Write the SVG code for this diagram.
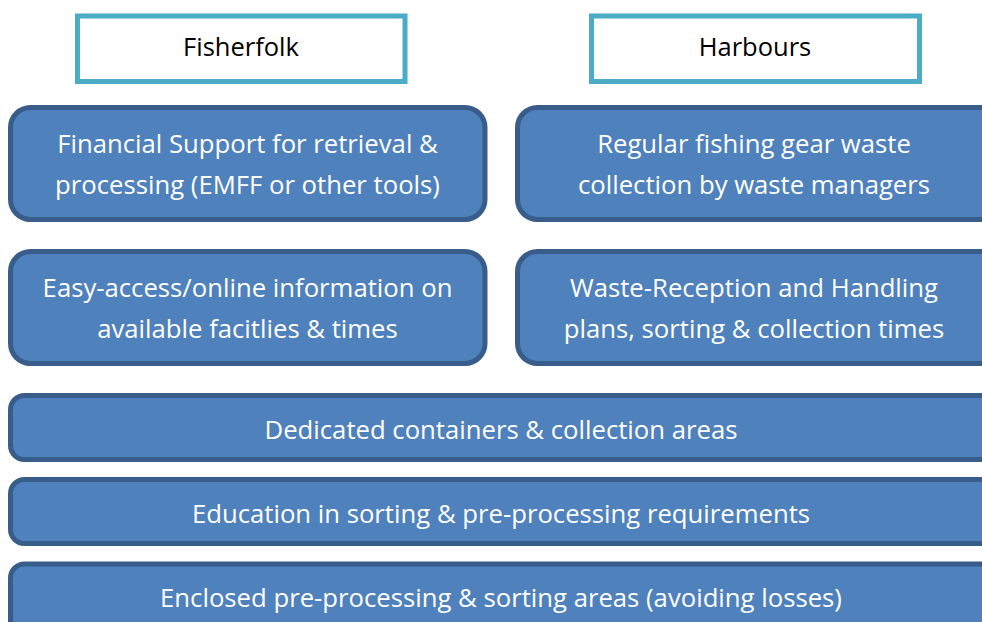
<svg xmlns="http://www.w3.org/2000/svg" width="982" height="622" viewBox="0 0 982 622">
  <style>
    .head rect { fill: #ffffff; stroke: #4bacc6; stroke-width: 5; }
    .head text { font-family: "Open Sans", "Liberation Sans", Arial, sans-serif; font-size: 25.5px; fill: #000000; text-anchor: middle; }
    .blk rect { fill: #4f81bd; stroke: #385d8a; stroke-width: 5; }
    .blk text { font-family: "Open Sans", "Liberation Sans", Arial, sans-serif; font-size: 25.7px; fill: #ffffff; text-anchor: middle; }
  </style>
  <rect x="0" y="0" width="982" height="622" fill="#ffffff"/>

  <g id="fisherfolk" class="head">
    <rect x="77.5" y="16" width="327.5" height="65.5"/>
    <text x="241" y="56">Fisherfolk</text>
  </g>
  <g id="harbours" class="head">
    <rect x="591.5" y="16" width="328" height="65.5"/>
    <text x="755" y="56">Harbours</text>
  </g>

  <g id="financial-support" class="blk">
    <rect x="10.5" y="107.5" width="474.5" height="112" rx="20"/>
    <text x="247.5" y="153">Financial Support for retrieval &amp;</text>
    <text x="247.5" y="194">processing (EMFF or other tools)</text>
  </g>
  <g id="regular-collection" class="blk">
    <rect x="517.5" y="107.5" width="490" height="112" rx="20"/>
    <text x="754" y="153">Regular fishing gear waste</text>
    <text x="754" y="194">collection by waste managers</text>
  </g>

  <g id="online-information" class="blk">
    <rect x="10.5" y="251.5" width="474.5" height="112" rx="20"/>
    <text x="247.5" y="297">Easy-access/online information on</text>
    <text x="247.5" y="338">available facitlies &amp; times</text>
  </g>
  <g id="reception-plans" class="blk">
    <rect x="517.5" y="251.5" width="490" height="112" rx="20"/>
    <text x="754" y="297">Waste-Reception and Handling</text>
    <text x="754" y="338">plans, sorting &amp; collection times</text>
  </g>

  <g id="dedicated-containers" class="blk">
    <rect x="10.5" y="395.5" width="1000" height="64" rx="14"/>
    <text x="501" y="439">Dedicated containers &amp; collection areas</text>
  </g>
  <g id="education" class="blk">
    <rect x="10.5" y="479.5" width="1000" height="64" rx="14"/>
    <text x="501" y="523">Education in sorting &amp; pre-processing requirements</text>
  </g>
  <g id="enclosed-areas" class="blk">
    <rect x="10.5" y="564" width="1000" height="80" rx="14"/>
    <text x="501" y="607">Enclosed pre-processing &amp; sorting areas (avoiding losses)</text>
  </g>

  <g id="connectors"/>
</svg>
